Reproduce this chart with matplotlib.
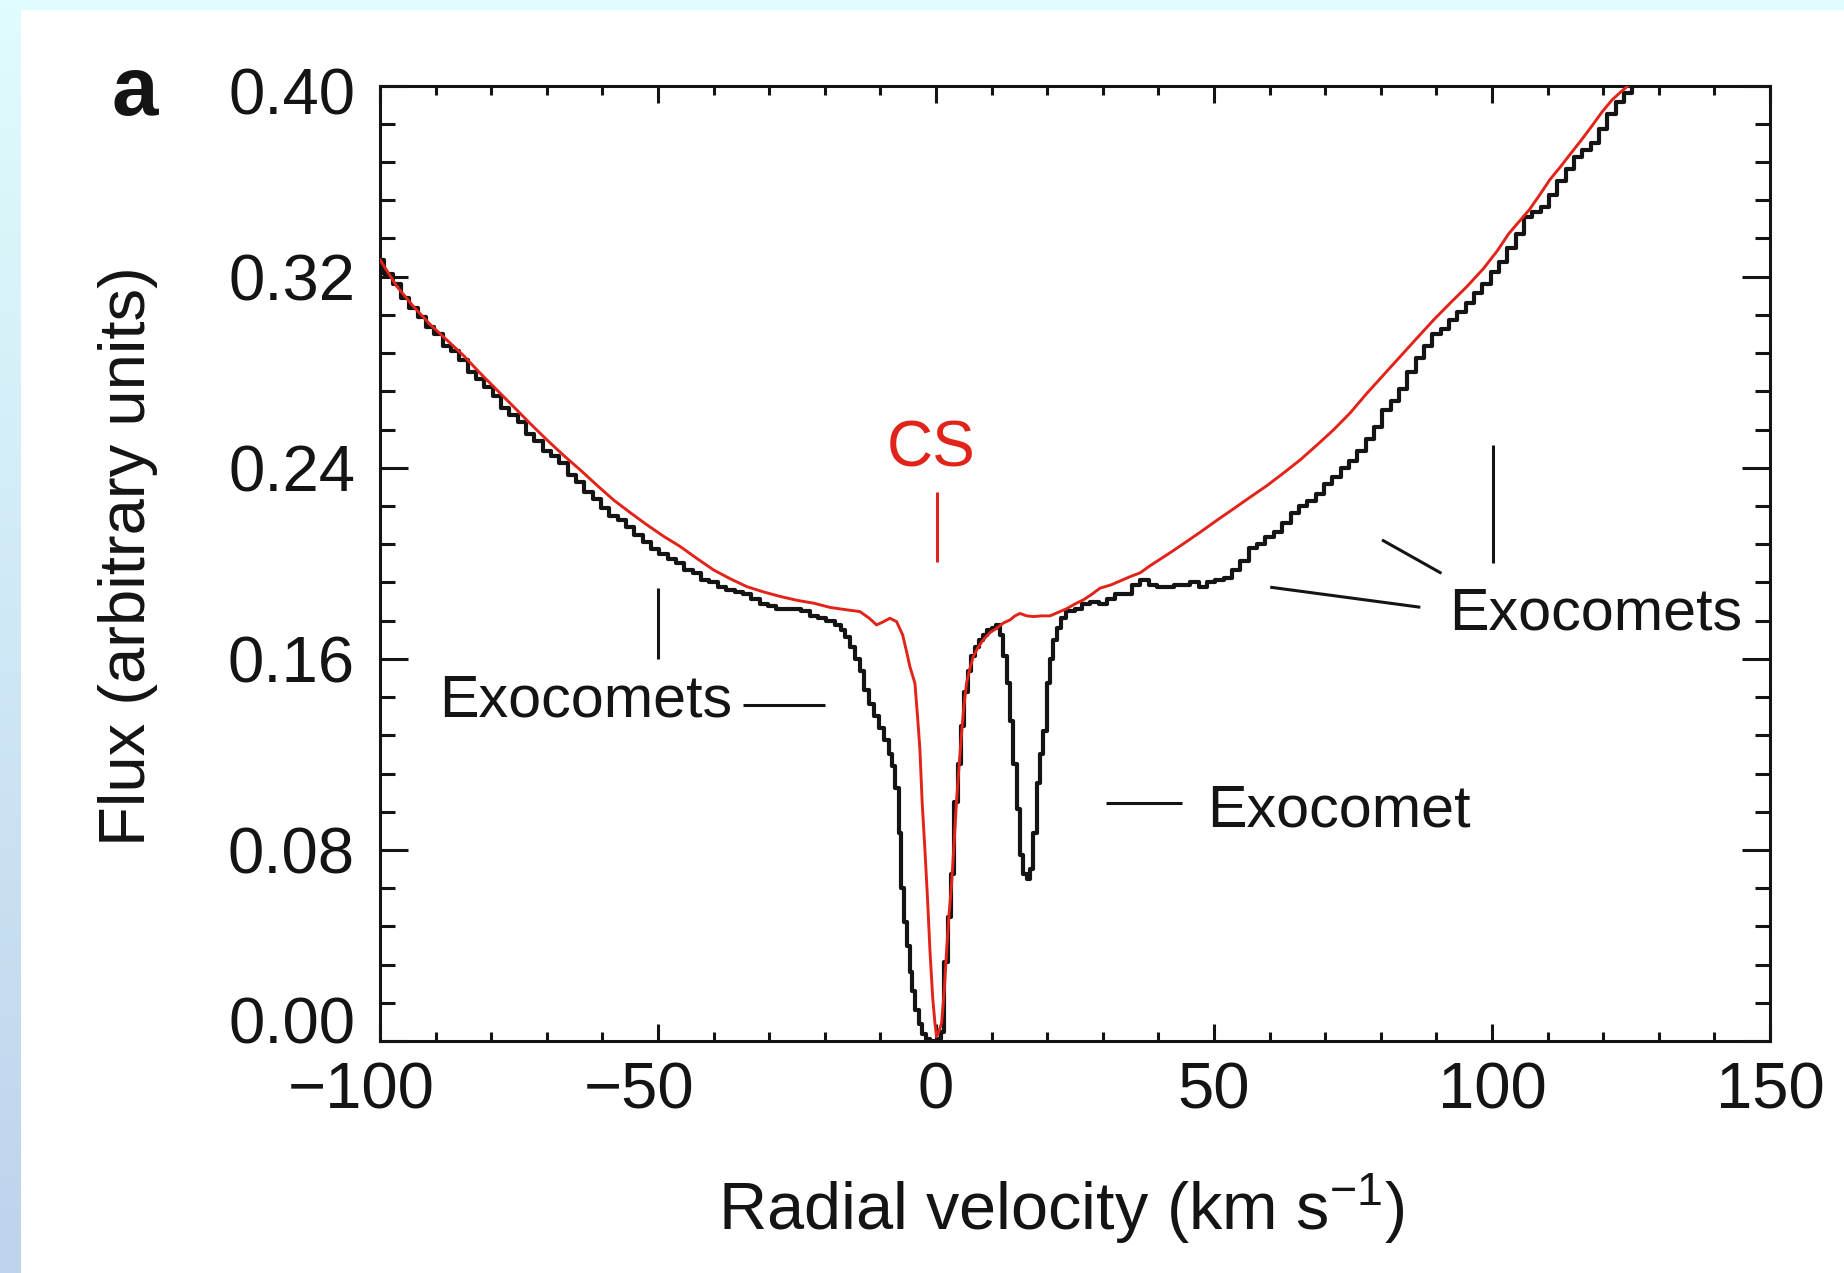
import numpy as np
import matplotlib
matplotlib.use('Agg')
import matplotlib.pyplot as plt
import matplotlib.transforms as mtransforms
from matplotlib.colors import LinearSegmentedColormap
from matplotlib.patches import Rectangle
from matplotlib.ticker import MultipleLocator, FormatStrFormatter

plt.rcParams['font.family'] = ['Liberation Sans', 'DejaVu Sans']
plt.rcParams['mathtext.fontset'] = 'custom'
plt.rcParams['mathtext.rm'] = 'Liberation Sans'
plt.rcParams['mathtext.it'] = 'Liberation Sans:italic'
plt.rcParams['mathtext.bf'] = 'Liberation Sans:bold'

# observed spectrum (black, drawn as steps)
obs_v = [
    -100.0, -98.5, -97.0, -95.5, -94.0, -92.5, -91.0, -89.5, -88.0, -86.5,
    -85.0, -83.5, -82.0, -80.5, -79.0, -77.5, -76.0, -74.5, -73.0, -71.5,
    -70.0, -68.5, -67.0, -65.5, -64.0, -62.5, -61.0, -59.5, -58.0, -56.5,
    -55.0, -53.5, -52.0, -50.5, -49.0, -47.5, -46.0, -44.5, -43.0, -41.5,
    -40.0, -38.5, -37.0, -35.5, -34.0, -32.5, -31.0, -29.5, -28.0, -26.5,
    -25.0, -23.5, -22.0, -20.5, -19.0, -17.5, -16.7, -16.0, -15.0, -14.0,
    -13.4, -12.5, -11.6, -10.7, -9.8, -8.9, -8.2, -7.6, -7.0, -6.5,
    -6.0, -5.5, -5.0, -4.5, -4.0, -3.4, -2.8, -2.2, -1.5, -0.8,
    -0.2, 0.5, 1.2, 1.8, 2.4, 3.0, 3.6, 4.2, 4.8, 5.4,
    6.0, 6.6, 7.3, 8.0, 8.8, 9.6, 10.4, 11.2, 11.8, 12.4,
    13.0, 13.6, 14.2, 14.8, 15.4, 16.0, 16.6, 17.2, 17.8, 18.4,
    19.0, 19.6, 20.2, 20.8, 21.4, 22.1, 22.9, 23.7, 24.5, 25.5,
    27.0, 28.5, 30.0, 31.5, 33.0, 34.5, 36.0, 37.5, 39.0, 40.5,
    42.0, 43.5, 45.0, 46.5, 48.0, 49.5, 51.0, 52.5, 54.0, 55.5,
    57.0, 58.5, 60.0, 61.5, 63.0, 64.5, 66.0, 67.5, 69.0, 70.5,
    72.0, 73.5, 75.0, 76.5, 78.0, 79.5, 81.0, 82.5, 84.0, 85.5,
    87.0, 88.5, 90.0, 91.5, 93.0, 94.5, 96.0, 97.5, 99.0, 100.5,
    102.0, 103.5, 105.0, 106.5, 108.0, 109.5, 111.0, 112.5, 114.0, 115.5,
    117.0, 118.5, 120.0, 121.5, 123.0, 124.5, 126.0,
]
obs_flux = [
    0.327, 0.321, 0.317, 0.311, 0.307, 0.303, 0.299, 0.296, 0.291, 0.289,
    0.285, 0.280, 0.277, 0.274, 0.270, 0.265, 0.262, 0.259, 0.254, 0.251,
    0.247, 0.245, 0.242, 0.237, 0.234, 0.230, 0.227, 0.223, 0.220, 0.218,
    0.215, 0.212, 0.209, 0.206, 0.204, 0.202, 0.200, 0.197, 0.196, 0.193,
    0.192, 0.190, 0.189, 0.188, 0.187, 0.185, 0.183, 0.182, 0.181, 0.181,
    0.181, 0.180, 0.178, 0.177, 0.176, 0.174, 0.172, 0.169, 0.165, 0.160,
    0.155, 0.147, 0.141, 0.136, 0.131, 0.126, 0.120, 0.115, 0.106, 0.087,
    0.064, 0.050, 0.040, 0.029, 0.021, 0.013, 0.007, 0.003, 0.001, 0.000,
    0.000, 0.001, 0.004, 0.033, 0.052, 0.070, 0.100, 0.116, 0.132, 0.146,
    0.155, 0.161, 0.165, 0.168, 0.170, 0.172, 0.173, 0.174, 0.170, 0.161,
    0.150, 0.134, 0.116, 0.097, 0.078, 0.070, 0.068, 0.072, 0.087, 0.108,
    0.120, 0.130, 0.150, 0.160, 0.168, 0.173, 0.177, 0.180, 0.180, 0.181,
    0.183, 0.184, 0.183, 0.185, 0.187, 0.187, 0.191, 0.193, 0.191, 0.190,
    0.190, 0.191, 0.191, 0.192, 0.190, 0.192, 0.193, 0.194, 0.197, 0.201,
    0.2065, 0.208, 0.211, 0.213, 0.217, 0.221, 0.224, 0.226, 0.229, 0.233,
    0.236, 0.240, 0.243, 0.247, 0.252, 0.257, 0.264, 0.268, 0.273, 0.280,
    0.286, 0.291, 0.296, 0.298, 0.302, 0.305, 0.309, 0.313, 0.317, 0.322,
    0.326, 0.332, 0.338, 0.345, 0.347, 0.349, 0.354, 0.360, 0.365, 0.370,
    0.373, 0.376, 0.382, 0.388, 0.393, 0.397, 0.402,
]

# comparison spectrum (red, CS)
ref_v = [
    -100.0, -97.0, -94.0, -91.0, -88.0, -85.0, -82.0, -79.0, -76.0, -73.0,
    -70.0, -67.0, -64.0, -61.0, -58.0, -55.0, -52.0, -49.0, -46.0, -43.0,
    -40.0, -37.0, -34.0, -31.0, -28.0, -25.0, -22.0, -19.0, -16.0, -13.7,
    -12.0, -10.7, -9.5, -8.3, -7.1, -6.0, -5.2, -4.7, -3.8, -3.3,
    -2.9, -2.5, -2.0, -1.5, -1.1, -0.6, -0.2, 0.1, 0.5, 1.0,
    1.5, 1.9, 2.3, 2.8, 3.3, 3.7, 4.2, 4.6, 5.0, 5.5,
    6.1, 6.7, 7.6, 8.5, 9.7, 10.9, 12.1, 13.3, 14.2, 15.1,
    16.3, 17.5, 19.0, 20.5, 22.0, 23.5, 25.0, 26.5, 28.0, 29.5,
    31.5, 33.5, 35.0, 36.7, 38.5, 40.5, 42.6, 45.0, 47.5, 50.5,
    53.5, 56.5, 59.5, 62.5, 65.5, 68.5, 71.5, 74.5, 77.5, 80.5,
    83.5, 86.5, 89.5, 92.5, 95.5, 98.5, 101.0, 103.0, 106.7, 108.5,
    110.4, 112.3, 114.2, 116.0, 117.9, 119.8, 121.6, 123.0, 124.5, 126.0,
]
ref_flux = [
    0.327, 0.316, 0.3075, 0.300, 0.2935, 0.287, 0.2796, 0.2726, 0.2656, 0.2585,
    0.2517, 0.2452, 0.2391, 0.2327, 0.2265, 0.2212, 0.2161, 0.2113, 0.2070, 0.2020,
    0.1972, 0.1935, 0.1902, 0.1880, 0.1861, 0.1845, 0.1833, 0.1815, 0.1805, 0.1798,
    0.177, 0.1742, 0.1755, 0.177, 0.1756, 0.170, 0.162, 0.1567, 0.1498, 0.135,
    0.1219, 0.100, 0.080, 0.058, 0.038, 0.018, 0.0075, 0.0018, 0.004, 0.0075,
    0.022, 0.038, 0.052, 0.066, 0.085, 0.101, 0.117, 0.129, 0.140, 0.150,
    0.156, 0.161, 0.165, 0.168, 0.171, 0.1728, 0.175, 0.1763, 0.178, 0.179,
    0.178, 0.1777, 0.178, 0.178, 0.1795, 0.181, 0.183, 0.1847, 0.187, 0.1896,
    0.191, 0.193, 0.1945, 0.196, 0.1990, 0.2020, 0.2052, 0.2090, 0.2130, 0.2180,
    0.2228, 0.2277, 0.2325, 0.2378, 0.2433, 0.2495, 0.2559, 0.263, 0.2712, 0.2789,
    0.2866, 0.2943, 0.3019, 0.309, 0.3159, 0.3235, 0.331, 0.338, 0.348, 0.354,
    0.3606, 0.366, 0.3717, 0.377, 0.3829, 0.389, 0.394, 0.397, 0.400, 0.404,
]

x_ticks = [-100, -50, 0, 50, 100, 150]
y_ticks = [0.00, 0.08, 0.16, 0.24, 0.32, 0.40]

# label text, anchor (velocity, flux)
labels = [
    ('Exocomets', -89.4, 0.1358),
    ('Exocomet', 48.7, 0.0897),
    ('Exocomets', 92.2, 0.1721),
]
# pointer strokes: (v0, v1), (f0, f1)
pointers = [
    ((-50.0, -50.0), (0.160, 0.1897)),
    ((-34.7, -20.0), (0.1407, 0.1407)),
    ((30.5, 44.2), (0.0997, 0.0997)),
    ((60.1, 87.1), (0.190, 0.1816)),
    ((80.2, 90.9), (0.2098, 0.1958)),
    ((100.1, 100.1), (0.200, 0.2496)),
]
cs_pointer = ((0.2, 0.2), (0.2006, 0.230))
cs_label = ('CS', -0.9, 0.2404)

RED = '#e2231a'
INK = '#141414'


def draw_background(fig):
    bg = fig.add_axes([0, 0, 1, 1], zorder=-10)
    bg.set_axis_off()
    cmap = LinearSegmentedColormap.from_list('frame', ['#bed3ec', '#cfe8f6', '#e0fcfc'])
    grad = np.linspace(0, 1, 256).reshape(-1, 1)
    bg.imshow(grad, cmap=cmap, aspect='auto', extent=[0, 1, 0, 1], origin='lower')
    bg.add_patch(Rectangle((21 / 1844, 0), 1, 1 - 10 / 1273, facecolor='white', edgecolor='none'))
    bg.set_xlim(0, 1)
    bg.set_ylim(0, 1)


def main():
    fig = plt.figure(figsize=(18.44, 12.73), dpi=100)
    draw_background(fig)

    ax = fig.add_axes([0.2061, 0.1822, 0.7538, 0.7506])
    ax.set_facecolor('none')

    ax.plot(obs_v, obs_flux, drawstyle='steps-mid', color=INK, lw=3.0, zorder=2)
    ax.plot(ref_v, ref_flux, color=RED, lw=2.1, zorder=3)

    for (xs, ys) in pointers:
        ax.plot(xs, ys, color=INK, lw=2.2, solid_capstyle='butt', zorder=2)
    ax.plot(cs_pointer[0], cs_pointer[1], color=RED, lw=2.2, solid_capstyle='butt')

    for text, v, f in labels:
        ax.text(v, f, text, fontsize=42.7, color=INK, ha='left', va='baseline')
    ax.text(cs_label[1], cs_label[2], cs_label[0], fontsize=46, color=RED,
            ha='center', va='baseline')

    ax.set_xlim(-100, 150)
    ax.set_ylim(0, 0.40)
    ax.set_xticks(x_ticks)
    ax.set_yticks(y_ticks)
    ax.xaxis.set_minor_locator(MultipleLocator(10))
    ax.yaxis.set_minor_locator(MultipleLocator(0.016))
    ax.yaxis.set_major_formatter(FormatStrFormatter('%.2f'))

    for sp in ax.spines.values():
        sp.set_linewidth(2.2)
        sp.set_color(INK)
    ax.tick_params(which='both', direction='in', top=True, right=True,
                   width=2.2, color=INK, labelsize=47, labelcolor=INK)
    ax.tick_params(axis='x', which='major', length=12, pad=15)
    ax.tick_params(axis='x', which='minor', length=6.5)
    ax.tick_params(axis='y', which='major', length=20, pad=18)
    ax.tick_params(axis='y', which='minor', length=10.5)

    # minus sign hangs left of the centred digits, like the print original
    shift_left = mtransforms.ScaledTranslation(-0.19, 0, fig.dpi_scale_trans)
    for val, tick in zip(x_ticks, ax.xaxis.get_major_ticks()):
        if val < 0:
            tick.label1.set_transform(tick.label1.get_transform() + shift_left)
    yt = ax.yaxis.get_major_ticks()
    yt[0].label1.set_transform(yt[0].label1.get_transform()
                               + mtransforms.ScaledTranslation(0, 0.21, fig.dpi_scale_trans))
    yt[-1].label1.set_transform(yt[-1].label1.get_transform()
                                + mtransforms.ScaledTranslation(0, -0.05, fig.dpi_scale_trans))

    ax.set_xlabel(r'Radial velocity (km s$^{-1}$)', fontsize=48, color=INK)
    ax.set_ylabel('Flux (arbitrary units)', fontsize=47, color=INK)
    ax.xaxis.set_label_coords(0.490, -0.136)
    ax.yaxis.set_label_coords(-0.160, 0.507)

    fig.text(111 / 1844, 1 - 115 / 1273, 'a', fontsize=60, fontweight='bold',
             color=INK, ha='left', va='baseline')

    fig.savefig('out.png', dpi=100)


if __name__ == '__main__':
    main()
